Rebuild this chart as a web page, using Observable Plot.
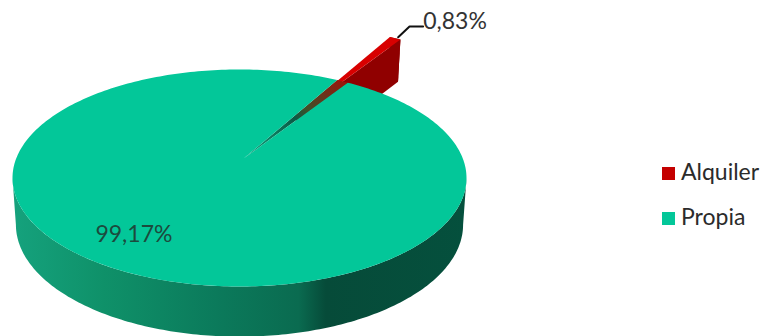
<!DOCTYPE html>
<html lang="es">
<head>
<meta charset="utf-8">
<script src="https://cdn.jsdelivr.net/npm/d3@7"></script>
<script src="https://cdn.jsdelivr.net/npm/@observablehq/plot@0.6"></script>
<style>
  html, body { margin: 0; background: #fff; }
  #chart { position: relative; width: 764px; height: 336px; overflow: hidden; font-family: Lato, sans-serif; }
  #chart svg { display: block; position: absolute; left: 0; top: 0; }
  .key { position: absolute; left: 662px; font-size: 23px; line-height: 22px; color: #2b2b2b; white-space: nowrap; }
  .key i { display: inline-block; width: 13px; height: 13px; margin-right: 6px; }
</style>
</head>
<body>
<div id="chart"></div>
<script>
// Tenure shares, in percent.
const categories = ["Alquiler", "Propia"];
const shares = [0.83, 99.17];
const colors = ["#c40000", "#03c799"];

const fmt = v => v.toLocaleString("es-ES", {minimumFractionDigits: 2}) + "%";

// Pie geometry, in units of the top ellipse's radii.
const W = 764, H = 336;
const CX = 239, CY = 177.5, RX = 227, RY = 108.5;
const firstAngle = 25.5;                 // degrees clockwise from the top
const hub = {x: 0.018, y: -0.18};        // where the slices meet
const pull = {x: 0.232, y: -0.398};      // how far the small slice is pulled out

const rim = a => {
  const t = a * Math.PI / 180;
  return {x: Math.sin(t), y: -Math.cos(t)};
};
// The lower edge of the extruded disc.
const lower = p => ({x: p.x * 0.985, y: p.y * 1.032 + 0.43});
const moved = p => ({x: p.x + pull.x, y: p.y + pull.y});

const sweep = shares.map(s => s * 3.6);
const alqStart = firstAngle, alqEnd = firstAngle + sweep[0];
const proEnd = alqEnd + sweep[1];

// Top face of the large slice.
const arc = d3.range(alqEnd, proEnd, 1).concat(proEnd).map(rim);
const propiaTop = [hub, ...arc];

// Visible outer wall of the disc.
const front = d3.range(90, 271, 1).map(rim);
const wall = [...front, ...front.slice().reverse().map(lower)];

// Gap between the cut faces of the large slice.
const gap = [hub, rim(alqStart), rim(alqEnd)];

// The small slice, pulled out of the disc.
const aHub = moved(hub), aL = moved(rim(alqStart)), aR = moved(rim(alqEnd));
const alqTop = [aHub, aL, aR];
const alqWall = [aHub, aR, lower(aR), lower(aHub)];
const alqOuter = [aL, aR, lower(aR), lower(aL)];

// Leader line from the small slice to its label.
const leader = [
  {x: aR.x - 0.01, y: aR.y - 0.02},
  {x: aR.x + 0.04, y: aR.y - 0.12},
  {x: aR.x + 0.1, y: aR.y - 0.12}
];

const defs = () => {
  const d = d3.create("svg:defs");
  const grad = (id, x1, y1, x2, y2, stops) => {
    const g = d.append("linearGradient").attr("id", id)
      .attr("x1", x1).attr("y1", y1).attr("x2", x2).attr("y2", y2);
    stops.forEach(([o, c]) => g.append("stop").attr("offset", o).attr("stop-color", c));
  };
  grad("wallShade", 0, 0, 1, 0, [
    [0, "#15a27d"], [0.2, "#0f9169"], [0.45, "#0b7a5b"],
    [0.63, "#0a6b50"], [0.69, "#064b39"], [1, "#05503d"]
  ]);
  grad("gapShade", 0, 1, 1, 0, [
    [0, "#10a882"], [0.5, "#0a5a45"], [0.62, "#3f5028"], [1, "#a01008"]
  ]);
  return d.node();
};

const poly = (pts, fill) => Plot.line(pts, {x: "x", y: "y", fill, stroke: "none"});

const plot = Plot.plot({
  width: W, height: H, margin: 0,
  style: {background: "transparent", fontFamily: "Lato, sans-serif"},
  x: {domain: [-CX / RX, (W - CX) / RX], range: [0, W], axis: null},
  y: {domain: [-CY / RY, (H - CY) / RY], range: [0, H], axis: null},
  marks: [
    defs,
    poly(alqOuter, "#8e0000"),
    poly(alqWall, "#900000"),
    poly(alqTop, "#d80000"),
    poly(wall, "url(#wallShade)"),
    poly(gap, "url(#gapShade)"),
    poly(propiaTop, colors[1]),
    Plot.line(leader, {x: "x", y: "y", stroke: "#111", strokeWidth: 2}),
    Plot.text([shares[0]], {
      x: leader[2].x, y: leader[2].y - 0.045, text: fmt,
      textAnchor: "start", fontSize: 23, fill: "#333"
    }),
    Plot.text([shares[1]], {
      x: -0.465, y: 0.52, text: fmt,
      textAnchor: "middle", fontSize: 23, fill: "#1c4a3d"
    })
  ]
});

const chart = document.getElementById("chart");
chart.append(plot);

// Key on the right-hand side.
categories.forEach((name, i) => {
  const row = document.createElement("div");
  row.className = "key";
  row.style.top = (160 + i * 45) + "px";
  const box = document.createElement("i");
  box.style.background = colors[i];
  row.append(box, name);
  chart.append(row);
});
</script>
</body>
</html>
